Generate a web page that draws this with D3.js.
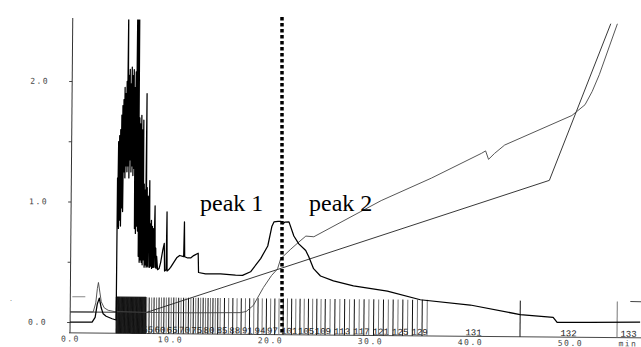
<!DOCTYPE html>
<html>
<head>
<meta charset="utf-8">
<script src="https://cdn.jsdelivr.net/npm/d3@7"></script>
<style>
  body { margin: 0; background: #fff; }
  svg { display: block; }
  .tick-label { font-family: "DejaVu Sans Mono", monospace; font-size: 8px; fill: #444; letter-spacing: 1.5px; }
  .frac-label { font-family: "Liberation Mono", monospace; font-size: 9px; fill: #222; }
  .peak-label { font-family: "Liberation Serif", "Times New Roman", serif; font-size: 24px; fill: #000; }
</style>
</head>
<body>
<svg id="chart" width="641" height="347"></svg>
<script>
// --- data (time in min, signal in AU) ---

// UV trace
const uvTime = [0, 2.2, 2.5, 2.7, 2.9, 3.1, 3.3, 3.6, 4.2, 4.6,
  4.62, 4.65, 4.70, 4.75, 4.80, 4.85, 4.90, 4.95, 5.00, 5.05, 5.10, 5.15, 5.20, 5.25, 5.30,
  5.35, 5.40, 5.45, 5.50, 5.55, 5.60, 5.65, 5.70, 5.75, 5.80, 5.85, 5.90, 5.95, 6.00, 6.05,
  6.10, 6.15, 6.20, 6.25, 6.30, 6.35, 6.40, 6.45, 6.50, 6.55, 6.60, 6.65, 6.70, 6.75, 6.80,
  6.85, 6.90, 6.95, 7.00, 7.05, 7.10, 7.15, 7.20, 7.25, 7.30, 7.35, 7.40, 7.45, 7.50, 7.55,
  7.60, 7.65, 7.70, 7.75, 7.80, 7.85, 7.90, 7.95, 8.00, 8.05, 8.10, 8.15, 8.20, 8.25, 8.30,
  8.35, 8.40, 8.45, 8.50, 8.55, 8.60, 8.70, 8.85, 9.00, 9.20, 9.35, 9.40, 9.55, 9.60, 9.65,
  9.80, 10.0, 10.3, 10.6, 10.9, 11.3, 11.35, 11.4, 11.7, 12.0, 12.3, 12.75, 12.8, 13.5, 15.0,
  16.5, 17.2, 18.0, 19.0, 19.7, 20.1, 20.3, 20.7, 21.0, 21.2, 21.4, 21.8, 22.3, 22.8, 23.5,
  23.8, 24.3, 25.0, 26.3, 28.3, 31.7, 35.0, 40.0, 45.0, 48.3, 48.7, 52.0, 57.0];
const uvAbs = [0, 0, 0.04, 0.15, 0.2, 0.12, 0.07, 0.05, 0.03, 0.02,
  1.20, 0.80, 1.50, 0.78, 1.55, 0.85, 1.60, 0.80, 1.72, 0.95, 1.80, 0.92, 1.85, 1.25, 1.95,
  1.20, 1.90, 1.30, 2.00, 1.25, 2.60, 1.30, 2.05, 1.20, 2.10, 1.35, 1.98, 1.25, 2.12, 1.30,
  2.05, 1.22, 2.10, 1.28, 1.95, 0.78, 2.08, 0.74, 2.60, 0.80, 2.60, 0.76, 2.60, 0.55, 1.70,
  0.50, 1.65, 0.52, 1.72, 0.50, 1.60, 0.48, 1.68, 0.52, 1.15, 0.46, 1.10, 0.48, 1.90, 0.46,
  1.12, 0.47, 1.05, 0.46, 0.85, 1.18, 0.46, 0.82, 0.47, 0.85, 0.45, 0.80, 0.46, 0.78, 0.46,
  0.72, 0.97, 0.46, 0.62, 0.45, 0.55, 0.44, 0.45, 0.50, 0.60, 0.66, 0.43, 0.44, 0.92, 0.43,
  0.44, 0.46, 0.50, 0.54, 0.56, 0.55, 0.84, 0.55, 0.54, 0.54, 0.56, 0.58, 0.42, 0.41, 0.41,
  0.40, 0.40, 0.43, 0.54, 0.645, 0.81, 0.845, 0.85, 0.85, 0.83, 0.845, 0.847, 0.73, 0.665, 0.61,
  0.56, 0.46, 0.40, 0.36, 0.32, 0.28, 0.21, 0.17, 0.094, 0.073, 0.032, 0.035, 0.04];

// conductivity trace
const condTime = [0, 2.3, 2.55, 2.7, 2.8, 2.95, 3.1, 3.4, 3.8, 4.4, 5.0, 8.0, 12.0, 17.0,
  17.6, 18.3, 19.3, 20.1, 20.7, 21.0, 22.0, 22.8, 23.5, 24.3, 31.0, 36.0, 41.0, 41.4, 41.7,
  42.3, 43.3, 50.0, 51.3, 52.0, 52.7, 53.7, 54.7, 55.0];
const condValue = [0.083, 0.085, 0.16, 0.28, 0.33, 0.25, 0.17, 0.12, 0.10, 0.09, 0.09, 0.085,
  0.085, 0.09, 0.10, 0.15, 0.30, 0.40, 0.456, 0.54, 0.62, 0.68, 0.73, 0.725, 1.03, 1.22, 1.43,
  1.45, 1.38, 1.43, 1.50, 1.75, 1.84, 1.95, 2.09, 2.33, 2.57, 2.65];

// gradient
const gradTime = [0, 7.6, 47.8, 54.2];
const gradValue = [0.084, 0.084, 1.21, 2.6];

// fraction starts (fraction 1 .. 133) plus end of run
const fracStart = [
  4.60, 4.66, 4.71, 4.77, 4.83, 4.88, 4.94, 4.99, 5.05, 5.11,
  5.16, 5.22, 5.28, 5.33, 5.39, 5.44, 5.50, 5.56, 5.61, 5.67,
  5.73, 5.78, 5.84, 5.89, 5.95, 6.01, 6.06, 6.12, 6.18, 6.23,
  6.29, 6.34, 6.40, 6.46, 6.51, 6.57, 6.63, 6.68, 6.74, 6.79,
  6.85, 6.91, 6.96, 7.02, 7.08, 7.13, 7.19, 7.24, 7.30, 7.36,
  7.41, 7.47, 7.53, 7.58,
  7.65, 7.89, 8.14, 8.38, 8.63, 8.88, 9.12, 9.37, 9.61, 9.86,
  10.10, 10.35, 10.59, 10.84, 11.08, 11.33, 11.57, 11.82, 12.06, 12.31,
  12.55, 12.80, 13.04, 13.29, 13.53, 13.78, 14.02, 14.27, 14.51, 14.76,
  15.00,
  15.42, 15.84, 16.26, 16.68, 17.10, 17.52, 17.94, 18.36, 18.78, 19.20,
  19.62, 20.04, 20.46, 20.88, 21.30, 21.72, 22.14, 22.56, 22.98, 23.40,
  23.82, 24.24, 24.66, 25.08, 25.50,
  25.99, 26.47, 26.96, 27.44, 27.93, 28.41, 28.90, 29.38, 29.87, 30.35,
  30.84, 31.32, 31.81, 32.29, 32.78, 33.26, 33.75, 34.23, 34.72, 35.20,
  35.70, 45.00, 54.70, 57.00];

const yTicks = [0, 0.5, 1, 1.5, 2];
const xTicks = [0, 10, 20, 30, 40, 50];
const markerTime = 21.2;
const peakLabels = ["peak 1", "peak 2"];

// --- chart ---
const svg = d3.select("#chart");
const x = d3.scaleLinear().domain([0, 57]).range([70, 640]);
const y = d3.scaleLinear().domain([0, 2.5]).range([322, 20.75]);
const fracTop = 0.21, axisLow = -0.09;

// the scan is tilted a little
const plot = svg.append("g").attr("transform", "rotate(0.5, 70, 333)");

plot.append("clipPath").attr("id", "clip")
  .append("rect").attr("x", 69).attr("y", 19).attr("width", 580).attr("height", 330);

// axes
const yAxis = plot.append("g")
  .attr("transform", `translate(${x(0)},0)`)
  .call(d3.axisLeft(y).tickValues(yTicks).tickSize(3).tickPadding(24)
    .tickFormat(d => Number.isInteger(d) ? d3.format(".1f")(d) : ""));
yAxis.select(".domain").remove();
yAxis.selectAll("line").attr("stroke", "#444");
yAxis.selectAll("text").attr("class", "tick-label").attr("text-anchor", "start").attr("x", -42);

plot.append("line")
  .attr("x1", x(0)).attr("x2", x(0))
  .attr("y1", 18).attr("y2", y(axisLow))
  .attr("stroke", "#333").attr("stroke-width", 1);

const xAxis = plot.append("g")
  .attr("transform", `translate(0,${y(axisLow)})`)
  .call(d3.axisBottom(x).tickValues(xTicks).tickSize(0).tickPadding(3)
    .tickFormat(d3.format(".1f")));
xAxis.select(".domain").remove();
xAxis.selectAll("text").attr("class", "tick-label");
plot.append("text").attr("class", "tick-label")
  .attr("x", 628).attr("y", y(axisLow) + 3).attr("dy", "0.71em")
  .attr("text-anchor", "middle").text("min");

plot.append("line")
  .attr("x1", x(0) - 1).attr("x2", 645)
  .attr("y1", y(axisLow)).attr("y2", y(axisLow))
  .attr("stroke", "#333").attr("stroke-width", 0.9);

// fractions
const fractions = fracStart.slice(0, -1).map((t, i) => ({ n: i + 1, t0: t, t1: fracStart[i + 1] }));

plot.append("g").selectAll("line")
  .data(fractions)
  .join("line")
  .attr("x1", d => x(d.t0)).attr("x2", d => x(d.t0))
  .attr("y1", y(fracTop)).attr("y2", y(axisLow))
  .attr("stroke", (d, i) => (x(d.t1) - x(d.t0) < 1.5 || i % 2) ? "#111" : "#777")
  .attr("stroke-width", 1);

plot.append("line")
  .attr("x1", x(fracStart[0])).attr("x2", x(fracStart[53]))
  .attr("y1", y(fracTop)).attr("y2", y(fracTop))
  .attr("stroke", "#111").attr("stroke-width", 1);
plot.append("line")
  .attr("x1", x(0.2)).attr("x2", x(1.5))
  .attr("y1", y(fracTop)).attr("y2", y(fracTop))
  .attr("stroke", "#888").attr("stroke-width", 1);
plot.append("line")
  .attr("x1", x(56)).attr("x2", 645)
  .attr("y1", y(fracTop)).attr("y2", y(fracTop))
  .attr("stroke", "#444").attr("stroke-width", 1);

// fraction numbers, skip the ones that would overlap
const labelG = plot.append("g");
let lastRight = -Infinity;
fractions.forEach(d => {
  const w = x(d.t1) - x(d.t0);
  if (w < 1.5) return;
  const cx = (x(d.t0) + x(d.t1)) / 2;
  const tw = String(d.n).length * 5.4;
  if (cx - tw / 2 < lastRight) return;
  lastRight = cx + tw / 2;
  labelG.append("text").attr("class", "frac-label")
    .attr("x", cx).attr("y", y(axisLow) - 1)
    .attr("text-anchor", "middle").text(d.n);
});

// traces
const line = d3.line().x(d => x(d[0])).y(d => y(d[1]));
const traces = plot.append("g").attr("clip-path", "url(#clip)");

traces.append("path")
  .attr("d", line(d3.zip(gradTime, gradValue)))
  .attr("fill", "none").attr("stroke", "#222").attr("stroke-width", 0.9);

traces.append("path")
  .attr("d", line(d3.zip(condTime, condValue)))
  .attr("fill", "none").attr("stroke", "#444").attr("stroke-width", 0.9);

traces.append("path")
  .attr("d", line(d3.zip(uvTime, uvAbs)))
  .attr("fill", "none").attr("stroke", "#000").attr("stroke-width", 1.25)
  .attr("stroke-linejoin", "round");

// annotations drawn on top of the print
svg.append("line")
  .attr("x1", x(markerTime)).attr("x2", x(markerTime))
  .attr("y1", 17).attr("y2", 333)
  .attr("stroke", "#000").attr("stroke-width", 3.5)
  .attr("stroke-dasharray", "3.5,2.5");

svg.selectAll(".peak-label")
  .data(peakLabels)
  .join("text")
  .attr("class", "peak-label")
  .attr("x", (d, i) => i ? 309 : 200)
  .attr("y", 211)
  .text(d => d);

svg.append("text").attr("x", 10).attr("y", 301)
  .attr("font-size", 8).attr("fill", "#666").text(".");
</script>
</body>
</html>
